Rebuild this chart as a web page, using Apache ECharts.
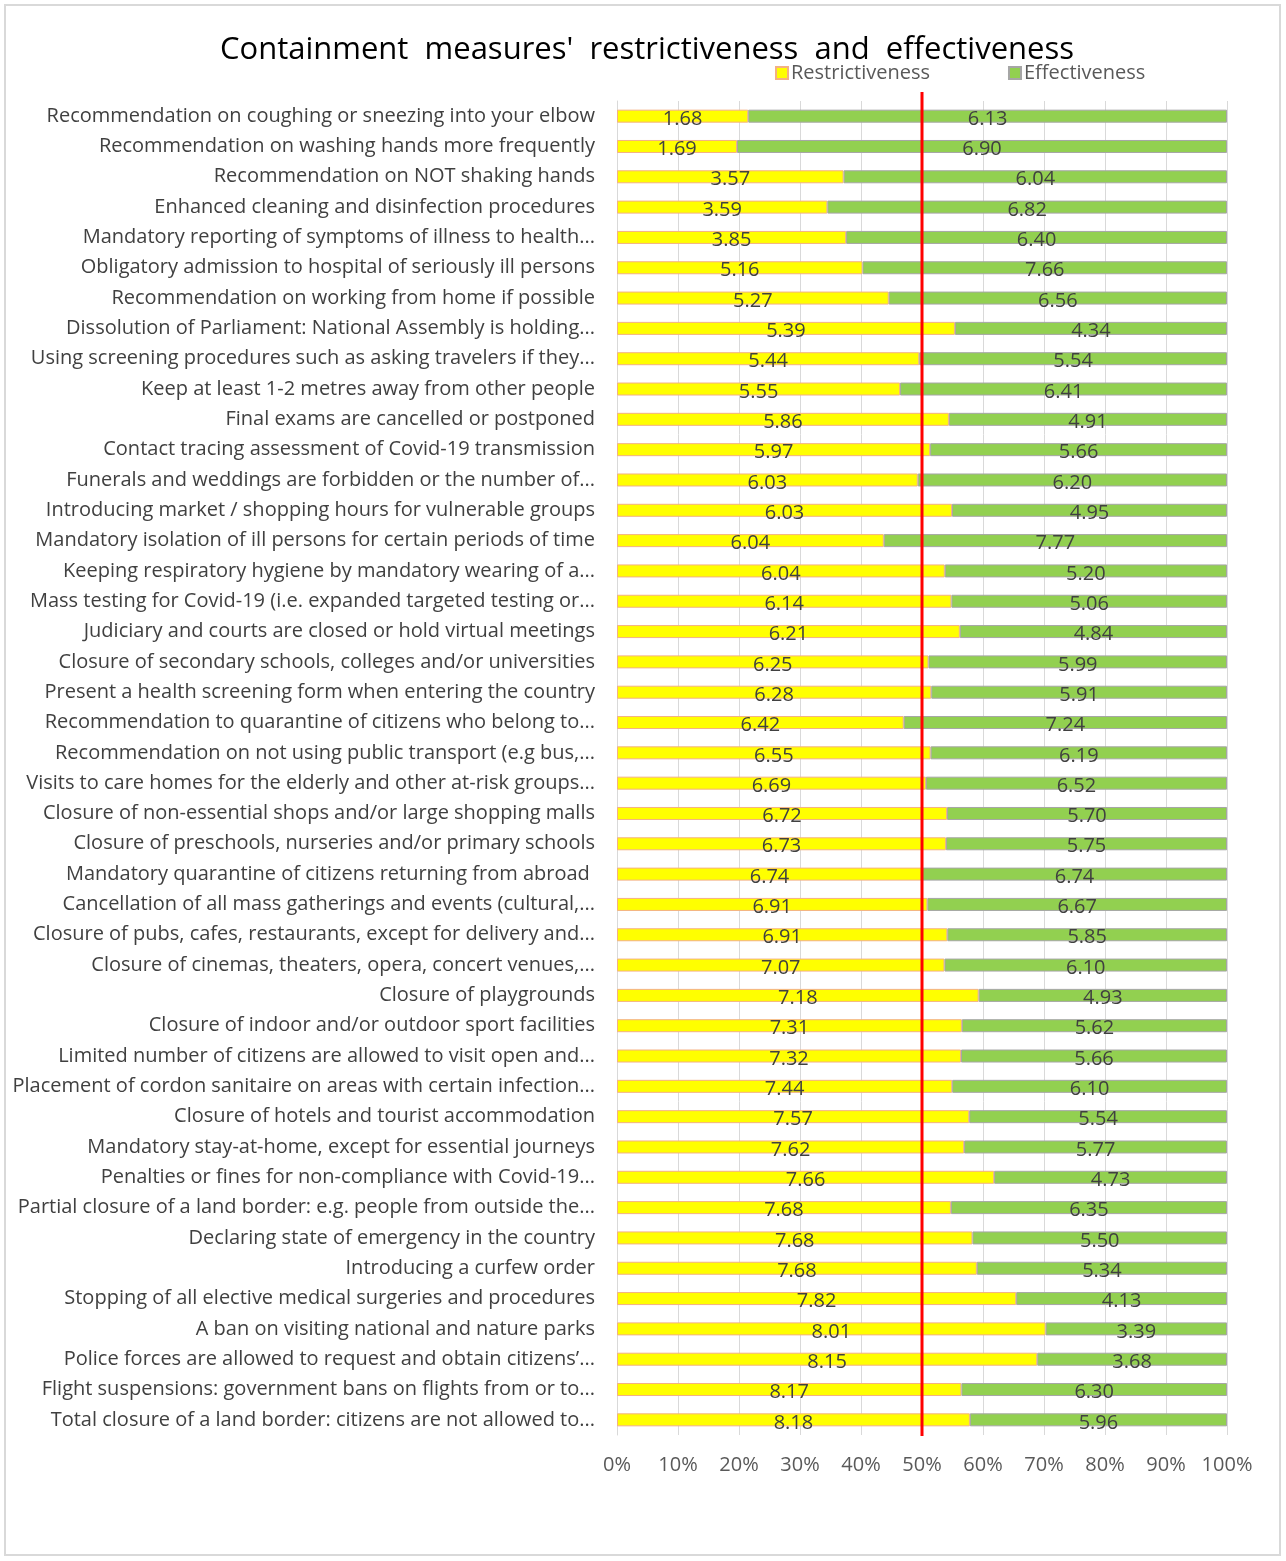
<!DOCTYPE html>
<html><head><meta charset="utf-8">
<script src="https://cdn.jsdelivr.net/npm/echarts@6/dist/echarts.min.js"></script>
<style>html,body{margin:0;padding:0;background:#fff}#c{width:1286px;height:1561px}</style>
</head><body><div id="c"></div>
<script>
const categories = [
"Recommendation on coughing or sneezing into your elbow",
"Recommendation on washing hands more frequently",
"Recommendation on NOT shaking hands",
"Enhanced cleaning and disinfection procedures",
"Mandatory reporting of symptoms of illness to health...",
"Obligatory admission to hospital of seriously ill persons",
"Recommendation on working from home if possible",
"Dissolution of Parliament: National Assembly is holding...",
"Using screening procedures such as asking travelers if they...",
"Keep at least 1-2 metres away from other people",
"Final exams are cancelled or postponed",
"Contact tracing assessment of Covid-19 transmission",
"Funerals and weddings are forbidden or the number of...",
"Introducing market / shopping hours for vulnerable groups",
"Mandatory isolation of ill persons for certain periods of time",
"Keeping respiratory hygiene by mandatory wearing of a...",
"Mass testing for Covid-19 (i.e. expanded targeted testing or...",
"Judiciary and courts are closed or hold virtual meetings",
"Closure of secondary schools, colleges and/or universities",
"Present a health screening form when entering the country",
"Recommendation to quarantine of citizens who belong to...",
"Recommendation on not using public transport (e.g bus,...",
"Visits to care homes for the elderly and other at-risk groups...",
"Closure of non-essential shops and/or large shopping malls",
"Closure of preschools, nurseries and/or primary schools",
"Mandatory quarantine of citizens returning from abroad ",
"Cancellation of all mass gatherings and events (cultural,...",
"Closure of pubs, cafes, restaurants, except for delivery and...",
"Closure of cinemas, theaters, opera, concert venues,...",
"Closure of playgrounds",
"Closure of indoor and/or outdoor sport facilities",
"Limited number of citizens are allowed to visit open and...",
"Placement of cordon sanitaire on areas with certain infection...",
"Closure of hotels and tourist accommodation",
"Mandatory stay-at-home, except for essential journeys",
"Penalties or fines for non-compliance with Covid-19...",
"Partial closure of a land border: e.g. people from outside the...",
"Declaring state of emergency in the country",
"Introducing a curfew order",
"Stopping of all elective medical surgeries and procedures",
"A ban on visiting national and nature parks",
"Police forces are allowed to request and obtain citizens\u2019...",
"Flight suspensions: government bans on flights from or to...",
"Total closure of a land border: citizens are not allowed to..."
];
const restrictiveness = [1.68,1.69,3.57,3.59,3.85,5.16,5.27,5.39,5.44,5.55,5.86,5.97,6.03,6.03,6.04,6.04,6.14,6.21,6.25,6.28,6.42,6.55,6.69,6.72,6.73,6.74,6.91,6.91,7.07,7.18,7.31,7.32,7.44,7.57,7.62,7.66,7.68,7.68,7.68,7.82,8.01,8.15,8.17,8.18];
const effectiveness = [6.13,6.90,6.04,6.82,6.40,7.66,6.56,4.34,5.54,6.41,4.91,5.66,6.20,4.95,7.77,5.20,5.06,4.84,5.99,5.91,7.24,6.19,6.52,5.70,5.75,6.74,6.67,5.85,6.10,4.93,5.62,5.66,6.10,5.54,5.77,4.73,6.35,5.50,5.34,4.13,3.39,3.68,6.30,5.96];
const axisTicks = [0,10,20,30,40,50,60,70,80,90,100];
const referenceLine = 50;

const FONT = "Open Sans";
const rShare = restrictiveness.map((r,i)=>({value: 100*r/(r+effectiveness[i]), raw: r}));
const eShare = effectiveness.map((e,i)=>({value: 100*e/(restrictiveness[i]+e), raw: e}));

const GRID_TOP = 101, GRID_BOTTOM = 126, H = 1561;
const chart = echarts.init(document.getElementById('c'), null, {renderer:'canvas'});
chart.setOption({
  animation:false,
  textStyle:{fontFamily:FONT},
  title:{text:"Containment  measures'  restrictiveness  and  effectiveness", left:642, textAlign:'center', top:30,
    textStyle:{fontFamily:FONT, fontSize:31, fontWeight:'normal', color:'#000'}},
  legend:{top:58, left:770, itemWidth:12, itemHeight:12, itemGap:78, icon:'rect',
    textStyle:{fontFamily:FONT, fontSize:20, color:'#595959', padding:[0,0,0,-2]},
    data:['Restrictiveness','Effectiveness']},
  graphic:[{type:'rect', shape:{x:5,y:5,width:1275,height:1550}, style:{fill:'none', stroke:'#d9d9d9', lineWidth:2}, silent:true}],
  grid:{left:617, right:59, top:GRID_TOP, bottom:GRID_BOTTOM, containLabel:false},
  xAxis:{type:'value', min:0, max:100, interval:10,
    axisLabel:{formatter:v=>v+'%', fontFamily:FONT, fontSize:20, color:'#595959', margin:20},
    splitLine:{lineStyle:{color:'#d9d9d9', width:1}}, axisLine:{show:false}, axisTick:{show:false}},
  yAxis:{type:'category', inverse:true, data:categories,
    axisLabel:{fontFamily:FONT, fontSize:20, color:'#404040', margin:22},
    axisLine:{show:true, lineStyle:{color:'#d9d9d9'}}, axisTick:{show:false}},
  series:[
    {name:'Restrictiveness', type:'bar', stack:'t', barWidth:13, data:rShare,
     itemStyle:{color:'#ffff00', borderColor:'#f4b183', borderWidth:1},
     label:{show:true, position:'inside', offset:[0,3], formatter:p=>p.data.raw.toFixed(2), fontFamily:FONT, fontSize:20, color:'#404040'}},
    {name:'Effectiveness', type:'bar', stack:'t', barWidth:13, data:eShare,
     itemStyle:{color:'#92d050', borderColor:'#a6a6a6', borderWidth:1},
     label:{show:true, position:'inside', offset:[0,3], formatter:p=>p.data.raw.toFixed(2), fontFamily:FONT, fontSize:20, color:'#404040'}}
  ]
});
// red reference line at 50%, positioned through the x-axis scale
const xRef = chart.convertToPixel({xAxisIndex:0}, referenceLine);
chart.setOption({
  graphic:[
    {type:'rect', shape:{x:5,y:5,width:1275,height:1550}, style:{fill:'none', stroke:'#d9d9d9', lineWidth:2}, silent:true},
    {type:'line', z:100, silent:true, shape:{x1:xRef, y1:GRID_TOP-9, x2:xRef, y2:H-GRID_BOTTOM+1},
     style:{stroke:'#ff0000', lineWidth:3}}
  ]
});
</script></body></html>
